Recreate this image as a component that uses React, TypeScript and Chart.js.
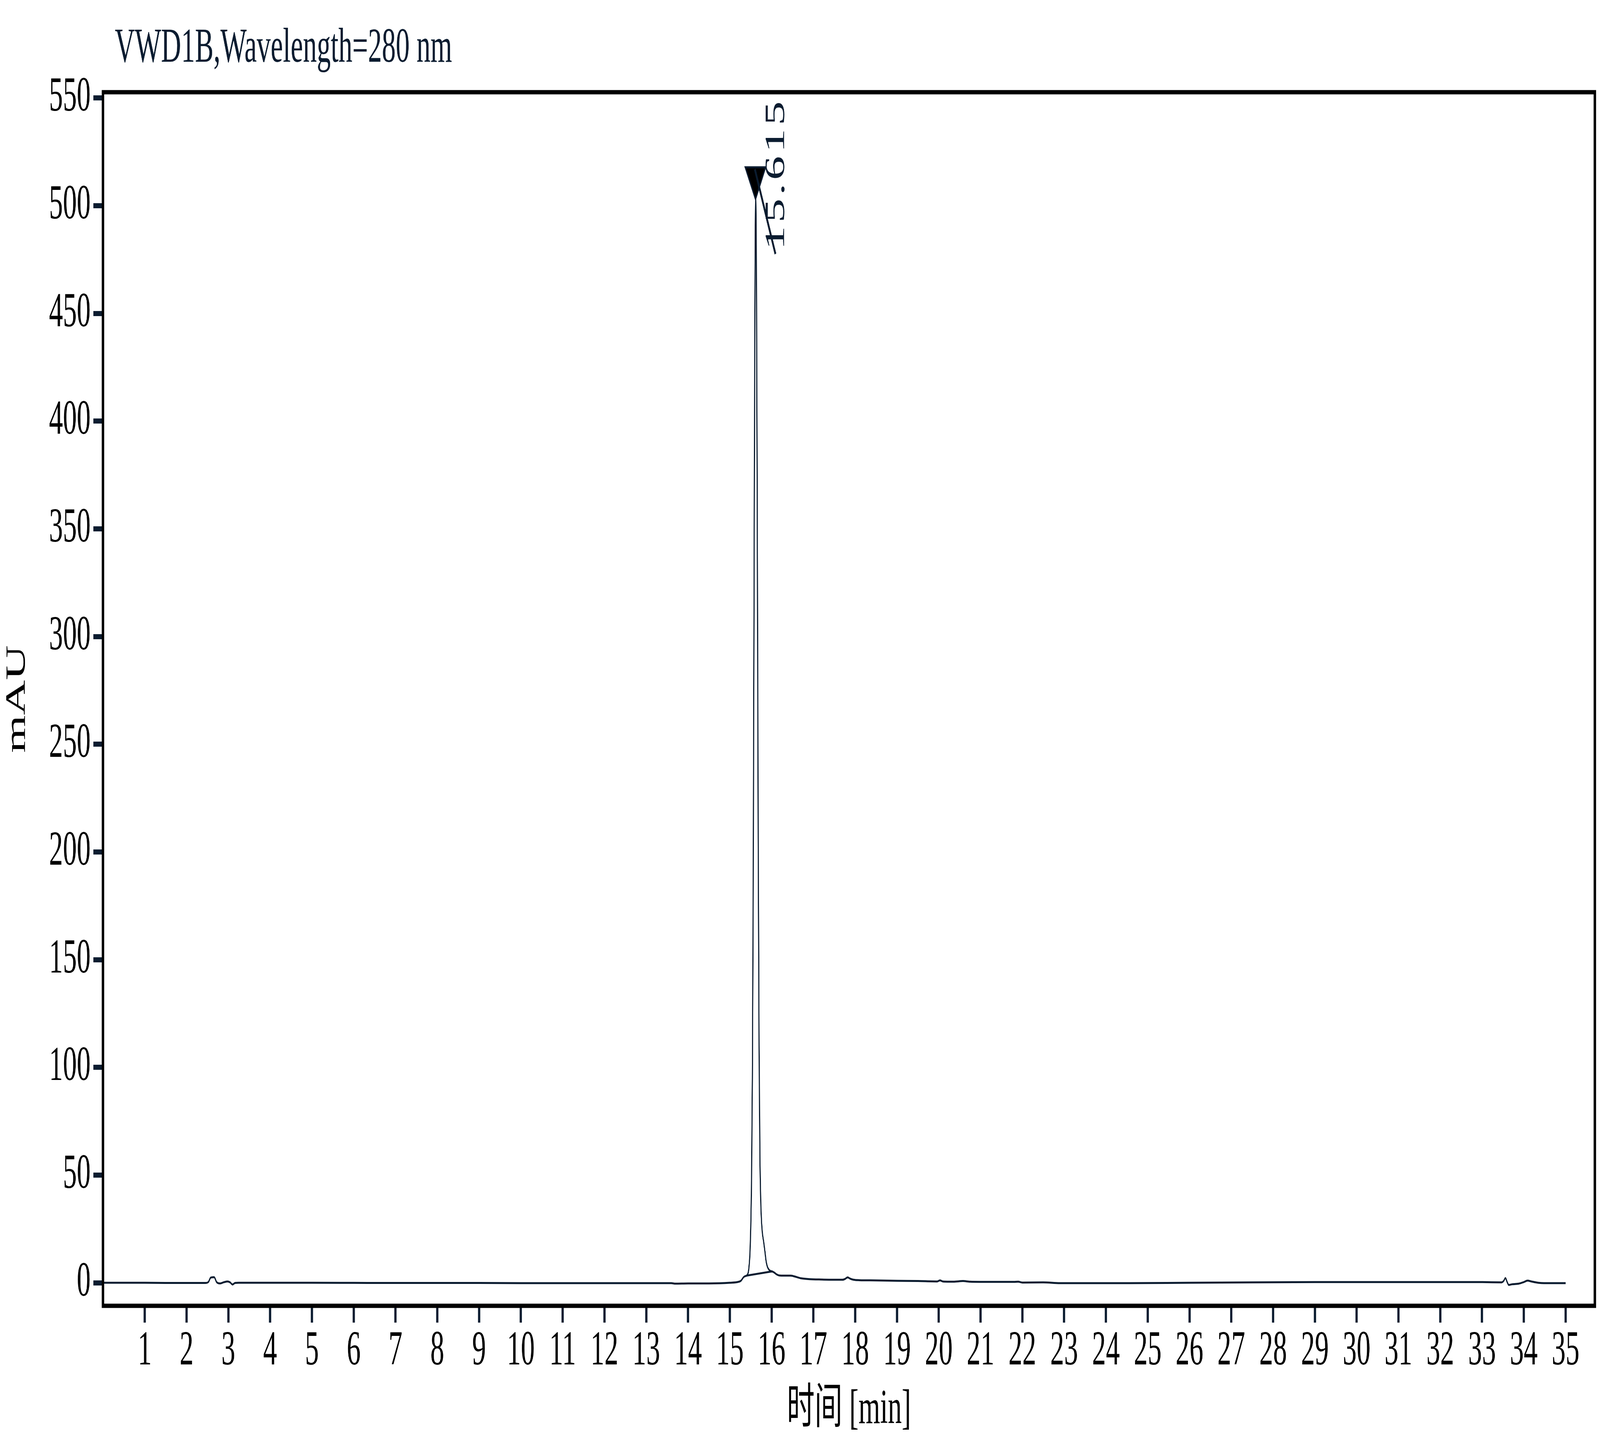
import React, { useEffect, useRef, useState } from 'react';
import { Chart, registerables } from 'chart.js';

Chart.register(...registerables);

// signal trace (time in min, absorbance in mAU)
const times = [
  0, 0.5, 1.0, 1.5, 2.0, 2.45, 2.52, 2.58, 2.66, 2.72, 2.8, 2.9, 2.98, 3.04, 3.1, 3.16, 3.25,
  4, 5, 6, 7, 8, 9, 10, 11, 12, 13, 13.6, 13.7, 14, 14.5, 15.0, 15.2, 15.27, 15.33, 15.37,
  15.4, 15.44, 15.46, 15.48, 15.5, 15.52, 15.54, 15.56, 15.58, 15.6, 15.62, 15.64, 15.66,
  15.68, 15.7, 15.72, 15.74, 15.76, 15.78, 15.81, 15.84, 15.87, 15.9, 15.94, 15.98, 16.02,
  16.06, 16.12, 16.18, 16.3, 16.45, 16.52, 16.7, 16.9, 17.2, 17.5, 17.7, 17.76, 17.82,
  17.88, 17.96, 18.1, 18.5, 19.0, 19.5, 19.96, 20.03, 20.1, 20.35, 20.58, 20.75, 21.3,
  21.8, 21.9, 22.0, 22.5, 22.9, 24.5, 26.0, 27.5, 29.0, 31.0, 33.0, 33.47, 33.52, 33.56,
  33.6, 33.64, 33.72, 33.88, 34.0, 34.09, 34.18, 34.34, 34.6, 35.0,
];
const signal = [
  0, 0, 0, -0.1, -0.1, -0.1, 0.3, 2.4, 2.6, 0.3, -0.3, 0.3, 0.6, 0.2, -0.8, -0.1, 0,
  0, 0, -0.05, -0.1, -0.1, -0.1, -0.2, -0.2, -0.2, -0.2, -0.2, -0.4, -0.3, -0.3, 0, 0.4, 1.0, 2.6, 3.1,
  3.3, 4.7, 7.5, 13, 25, 48, 95, 185, 320, 450, 503, 455, 335,
  205, 110, 60, 38, 28, 23, 19, 14.5, 9.8, 7.4, 6.0, 5.4, 5.2,
  4.8, 3.9, 3.4, 3.3, 3.3, 3.1, 2.1, 1.7, 1.5, 1.4, 1.4, 1.8, 2.5,
  1.9, 1.4, 1.2, 1.1, 0.9, 0.8, 0.6, 1.1, 0.6, 0.5, 0.8, 0.5, 0.4,
  0.4, 0.5, 0.1, 0.2, -0.2, -0.2, 0, 0.2, 0.3, 0.3, 0.3, 0.2, 0.9, 2.2,
  0.4, -1.0, -0.7, -0.4, 0.3, 1.0, 0.6, 0, -0.2, -0.2,
];

// integration baseline under the main peak
const baselineTimes = [15.4, 16.02];
const baselineValues = [3.3, 5.3];

const xTicks = [
  1, 2, 3, 4, 5, 6, 7, 8, 9, 10, 11, 12, 13, 14, 15, 16, 17, 18, 19, 20,
  21, 22, 23, 24, 25, 26, 27, 28, 29, 30, 31, 32, 33, 34, 35,
];
const yTicks = [0, 50, 100, 150, 200, 250, 300, 350, 400, 450, 500, 550];

const peakTimes = [15.615];
const peakLabels = ['15.615'];

const chartTitle = 'VWD1B,Wavelength=280 nm';
const xTitle = '时间 [min]';
const yTitle = 'mAU';

const W = 7148;
const H = 3688;
const NAVY = '#0b1c30';
const FONT = '"Liberation Serif", "Noto Sans CJK SC", serif';
const FS = 124;

const decorations = {
  id: 'decorations',
  afterDatasetsDraw(chart: any) {
    const { ctx, chartArea, scales } = chart;
    ctx.save();
    // frame
    ctx.strokeStyle = '#000';
    ctx.lineWidth = 11;
    ctx.strokeRect(chartArea.left, chartArea.top, chartArea.right - chartArea.left, chartArea.bottom - chartArea.top);

    // title
    ctx.fillStyle = NAVY;
    ctx.font = `${FS}px ${FONT}`;
    ctx.textAlign = 'left';
    ctx.textBaseline = 'alphabetic';
    ctx.fillText(chartTitle, chartArea.left + 53, 158);

    // peak markers
    const apex = Math.max(...signal);
    peakTimes.forEach((t, i) => {
      const px = scales.x.getPixelForValue(t);
      const py = scales.y.getPixelForValue(apex);
      ctx.beginPath();
      ctx.moveTo(px, py);
      ctx.lineTo(px - 46, py - 82);
      ctx.lineTo(px + 45, py - 82);
      ctx.closePath();
      ctx.fillStyle = '#000';
      ctx.fill();
      ctx.strokeStyle = NAVY;
      ctx.lineWidth = 5;
      ctx.stroke();

      ctx.beginPath();
      ctx.moveTo(px - 3, py - 77);
      ctx.lineTo(px + 89, py + 140);
      ctx.lineWidth = 8;
      ctx.stroke();

      ctx.save();
      ctx.translate(px + 128, py + 130);
      ctx.rotate(-Math.PI / 2);
      ctx.fillStyle = NAVY;
      ctx.font = `${FS}px ${FONT}`;
      (ctx as any).letterSpacing = '8px';
      ctx.fillText(peakLabels[i], 0, 0);
      ctx.restore();
    });
    ctx.restore();
  },
};

export default function App() {
  const canvasRef = useRef<HTMLCanvasElement>(null);
  const chartRef = useRef<Chart | null>(null);
  // the chart is laid out in reference pixels, then fitted to the viewport
  const [fit] = useState(() => ({ kx: window.innerWidth / W, ky: window.innerHeight / H }));

  useEffect(() => {
    document.body.style.margin = '0';
    document.body.style.overflow = 'hidden';
    if (!canvasRef.current) return;
    if (chartRef.current) chartRef.current.destroy();

    chartRef.current = new Chart(canvasRef.current, {
      type: 'line',
      data: {
        datasets: [
          {
            data: times.map((t, i) => ({ x: t, y: signal[i] })),
            borderColor: NAVY,
            borderWidth: 5,
            pointRadius: 0,
            cubicInterpolationMode: 'monotone',
            fill: false,
          },
          {
            data: baselineTimes.map((t, i) => ({ x: t, y: baselineValues[i] })),
            borderColor: NAVY,
            borderWidth: 5,
            pointRadius: 0,
            fill: false,
          },
        ],
      },
      options: {
        responsive: false,
        devicePixelRatio: 1,
        animation: false,
        layout: { padding: { top: 236, right: 23, left: 0, bottom: 0 } },
        plugins: { legend: { display: false }, tooltip: { enabled: false } },
        scales: {
          x: {
            type: 'linear',
            min: 0,
            max: 35.7,
            afterFit: (s: any) => { s.height = 346; },
            afterBuildTicks: (s: any) => { s.ticks = xTicks.map(v => ({ value: v })); },
            border: { display: false },
            grid: { drawOnChartArea: false, tickLength: 43, tickWidth: 10, tickColor: NAVY },
            ticks: { autoSkip: false, maxRotation: 0, padding: 0, color: '#000', font: { family: FONT, size: FS } },
            title: { display: true, text: xTitle, color: '#000', padding: { top: 4, bottom: 4 }, font: { family: FONT, size: FS } },
          },
          y: {
            type: 'linear',
            min: -10.7,
            max: 552.7,
            afterFit: (s: any) => { s.width = 460; },
            afterBuildTicks: (s: any) => { s.ticks = yTicks.map(v => ({ value: v })); },
            border: { display: false },
            grid: { drawOnChartArea: false, tickLength: 43, tickWidth: 13, tickColor: NAVY },
            ticks: { padding: 12, color: '#000', font: { family: FONT, size: FS } },
            title: { display: true, text: yTitle, color: '#000', padding: { top: 4, bottom: 4 }, font: { family: FONT, size: FS } },
          },
        },
      },
      plugins: [decorations],
    });

    return () => {
      chartRef.current?.destroy();
      chartRef.current = null;
    };
  }, []);

  return (
    <div style={{ position: 'relative', width: W * fit.kx, height: H * fit.ky, overflow: 'hidden', background: '#fff' }}>
      <div
        style={{
          position: 'absolute',
          left: 0,
          top: 0,
          width: W,
          height: H,
          transform: `scale(${fit.kx}, ${fit.ky})`,
          transformOrigin: '0 0',
        }}
      >
        <canvas ref={canvasRef} width={W} height={H} style={{ display: 'block' }} />
      </div>
    </div>
  );
}
